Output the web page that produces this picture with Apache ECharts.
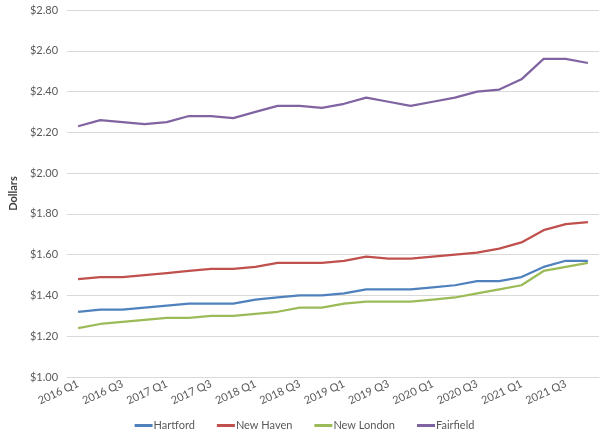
<!DOCTYPE html>
<html>
<head>
<meta charset="utf-8">
<script src="https://cdn.jsdelivr.net/npm/echarts@6/dist/echarts.min.js"></script>
<style>html,body{margin:0;padding:0;background:#fff;}#c{width:609px;height:441px;}</style>
</head>
<body>
<div id="c"></div>
<script>
const categories = ['2016 Q1','2016 Q2','2016 Q3','2016 Q4','2017 Q1','2017 Q2','2017 Q3','2017 Q4','2018 Q1','2018 Q2','2018 Q3','2018 Q4','2019 Q1','2019 Q2','2019 Q3','2019 Q4','2020 Q1','2020 Q2','2020 Q3','2020 Q4','2021 Q1','2021 Q2','2021 Q3','2021 Q4'];
const hartford = [1.32,1.33,1.33,1.34,1.35,1.36,1.36,1.36,1.38,1.39,1.40,1.40,1.41,1.43,1.43,1.43,1.44,1.45,1.47,1.47,1.49,1.54,1.57,1.57];
const newHaven = [1.48,1.49,1.49,1.50,1.51,1.52,1.53,1.53,1.54,1.56,1.56,1.56,1.57,1.59,1.58,1.58,1.59,1.60,1.61,1.63,1.66,1.72,1.75,1.76];
const newLondon = [1.24,1.26,1.27,1.28,1.29,1.29,1.30,1.30,1.31,1.32,1.34,1.34,1.36,1.37,1.37,1.37,1.38,1.39,1.41,1.43,1.45,1.52,1.54,1.56];
const fairfield = [2.23,2.26,2.25,2.24,2.25,2.28,2.28,2.27,2.30,2.33,2.33,2.32,2.34,2.37,2.35,2.33,2.35,2.37,2.40,2.41,2.46,2.56,2.56,2.54];
const seriesNames = ['Hartford','New Haven','New London','Fairfield'];
const colors = ['#4F81BD','#C0504D','#9BBB59','#8064A2'];
const values = [hartford, newHaven, newLondon, fairfield];

const chart = echarts.init(document.getElementById('c'), null, {renderer:'canvas'});
const font = 'Lato, "Open Sans", sans-serif';
chart.setOption({
  animation: false,
  color: colors,
  grid: {left: 61, right: 10, top: 10, bottom: 64},
  legend: {
    bottom: 5, left: 'center',
    itemWidth: 18, itemHeight: 3, itemGap: 22, icon: 'rect',
    textStyle: {color: '#595959', fontSize: 11, fontFamily: font, padding: [0,0,0,-4]},
    data: seriesNames
  },
  xAxis: {
    type: 'category', data: categories, boundaryGap: true,
    axisLine: {show: true, lineStyle: {color: '#D9D9D9'}},
    axisTick: {show: false},
    axisLabel: {interval: 1, rotate: 25, color: '#595959', fontSize: 11, fontFamily: font, margin: 6}
  },
  yAxis: {
    type: 'value', min: 1.0, max: 2.8, interval: 0.2,
    name: 'Dollars', nameLocation: 'middle', nameGap: 37,
    nameTextStyle: {color: '#404040', fontSize: 11, fontWeight: 'bold', fontFamily: font},
    axisLine: {show: false}, axisTick: {show: false},
    splitLine: {lineStyle: {color: '#D9D9D9', width: 1}},
    axisLabel: {color: '#595959', fontSize: 11, fontFamily: font, margin: 9,
      formatter: v => '$' + v.toFixed(2)}
  },
  series: values.map((d, i) => ({
    name: seriesNames[i], type: 'line', data: d, showSymbol: false, symbol: 'none',
    lineStyle: {width: 2.25, color: colors[i]}, itemStyle: {color: colors[i]}
  }))
});
</script>
</body>
</html>
